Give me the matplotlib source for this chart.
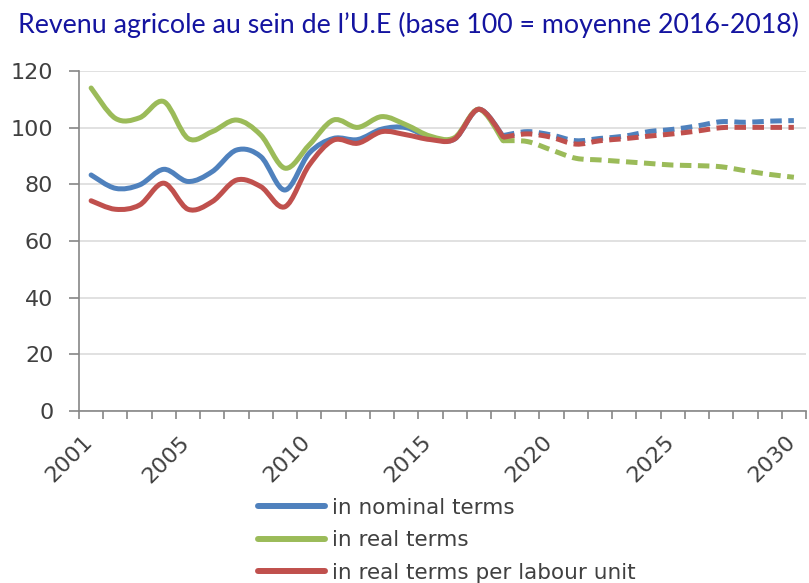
import matplotlib

matplotlib.use("Agg")
import matplotlib.pyplot as plt
import matplotlib.transforms as mtransforms
import numpy as np
from matplotlib.lines import Line2D
from matplotlib.patches import PathPatch
from matplotlib.path import Path

years = list(range(2001, 2031))
hist_years = list(range(2001, 2019))
proj_years = list(range(2018, 2031))
label_years = [2001, 2005, 2010, 2015, 2020, 2025, 2030]

nominal_hist = [83.3, 78.6, 79.8, 85.3, 81.0, 84.5, 92.1, 89.8, 78.0,
                91.0, 96.2, 95.8, 99.5, 100.0, 96.4, 96.0, 106.5, 97.0]
real_hist = [114.0, 103.3, 103.5, 109.2, 96.2, 98.6, 102.7, 97.4, 85.7,
             93.9, 102.7, 100.1, 103.9, 101.0, 97.0, 96.5, 106.5, 95.4]
labour_hist = [74.2, 71.2, 72.7, 80.4, 71.2, 73.9, 81.5, 79.2, 72.1,
               86.8, 95.6, 94.5, 98.6, 97.5, 95.8, 96.0, 106.5, 96.8]

nominal_proj = [97.2, 98.6, 97.4, 95.4, 96.2, 97.0, 98.6, 99.4, 100.6,
                102.1, 101.9, 102.3, 102.5]
real_proj = [95.4, 95.1, 92.1, 89.2, 88.6, 88.0, 87.4, 86.8, 86.6,
             86.2, 84.8, 83.5, 82.5]
labour_proj = [96.6, 97.8, 96.6, 94.2, 95.4, 96.1, 97.0, 97.8, 98.8,
               100.0, 100.1, 100.1, 100.1]

series_labels = ["in nominal terms", "in real terms",
                 "in real terms per labour unit"]
colors = ["#4F81BD", "#9BBB59", "#C0504D"]

plt.rcParams["font.family"] = ["DejaVu Sans"]


def smooth_path(xs, ys):
    # bezier path through the points, like Excel's "smoothed line"
    p = np.column_stack([xs, ys]).astype(float)
    n = len(p)
    verts = [p[0]]
    codes = [Path.MOVETO]
    for i in range(n - 1):
        prev = p[i - 1] if i > 0 else p[i]
        nxt = p[i + 2] if i + 2 < n else p[i + 1]
        verts += [p[i] + (p[i + 1] - prev) / 6,
                  p[i + 1] - (nxt - p[i]) / 6,
                  p[i + 1]]
        codes += [Path.CURVE4] * 3
    return Path(verts, codes)


def pos(yrs):
    return [years.index(y) for y in yrs]


fig = plt.figure(figsize=(8.09, 5.83), dpi=100)
ax = fig.add_axes([79 / 809, 1 - 411 / 583, 727 / 809, 340 / 583])

lw = 3.6
for hist, proj, color in zip([nominal_hist, real_hist, labour_hist],
                             [nominal_proj, real_proj, labour_proj], colors):
    ax.add_patch(PathPatch(smooth_path(pos(hist_years), hist), fill=False,
                           edgecolor=color, lw=lw, capstyle="round",
                           joinstyle="round", zorder=3))
    ax.add_patch(PathPatch(smooth_path(pos(proj_years), proj), fill=False,
                           edgecolor=color, lw=lw, linestyle=(0, (2.3, 1.3)),
                           capstyle="butt", zorder=3))

ax.set_xlim(-0.5, len(years) - 0.5)
ax.set_ylim(0, 120)
ax.set_yticks(range(0, 121, 20))
ax.set_xticks(np.arange(-0.5, len(years)))
ax.set_xticklabels([])

ax.grid(axis="y", color="#D9D9D9", lw=1.1, zorder=0)
ax.set_axisbelow(True)
for side in ["top", "right"]:
    ax.spines[side].set_visible(False)
for side in ["left", "bottom"]:
    ax.spines[side].set_color("#868686")
    ax.spines[side].set_linewidth(1.2)

ax.tick_params(axis="y", length=7.5, width=1.2, color="#868686",
               labelsize=16, labelcolor="#404040", pad=11)
ax.tick_params(axis="x", length=6, width=1.2, color="#868686")

# year labels: top-right end of each rotated label sits below its category
label_trans = ax.get_xaxis_transform() + mtransforms.ScaledTranslation(
    -9 / 100, -21 / 100, fig.dpi_scale_trans)
for yr in label_years:
    ax.text(years.index(yr), 0, str(yr), transform=label_trans, rotation=45,
            rotation_mode="anchor", ha="right", va="top", fontsize=16,
            color="#404040")

fig.text(409 / 809, 1 - 25 / 583,
         "Revenu agricole au sein de l\u2019U.E (base 100 = moyenne 2016-2018)",
         ha="center", va="center", color="#1414A0", family="Lato",
         fontsize=19.3)

handles = [Line2D([], [], color=c, lw=4.3, solid_capstyle="round")
           for c in colors]
leg = fig.legend(handles, series_labels, loc="center left",
                 bbox_to_anchor=(258 / 809, 1 - 540.5 / 583), frameon=False,
                 prop={"family": "DejaVu Sans", "size": 15.5},
                 handlelength=3.1, handletextpad=0.36, labelspacing=0.58,
                 borderpad=0, borderaxespad=0, labelcolor="#404040")

plt.savefig("out.png", dpi=100)
